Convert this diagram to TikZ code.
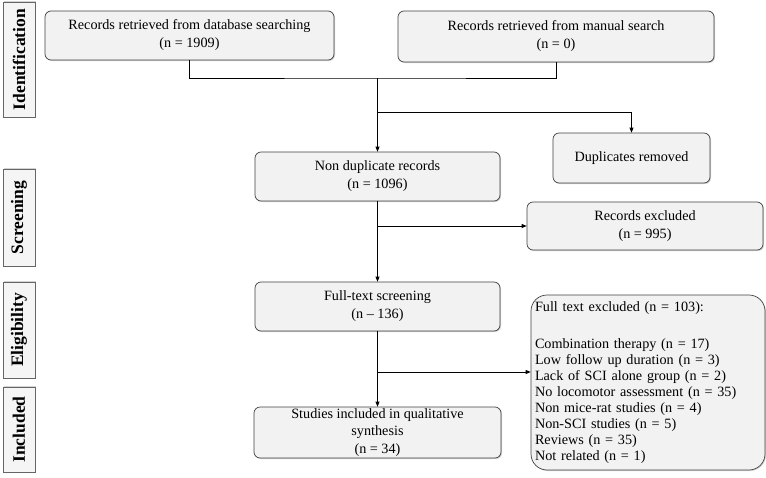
\documentclass[tikz,border=0pt]{standalone}
\usepackage{fontspec}
\setmainfont{Liberation Serif}
\usetikzlibrary{arrows.meta, shadows}

\begin{document}
\begin{tikzpicture}[
		x=1pt, y=-1pt,
		>={Triangle[length=5pt, width=4pt]},
		box/.style={draw=black!75, fill=black!5, line width=0.7pt, rounded corners=6pt, align=center, inner sep=1pt, font=\fontsize{14.2}{18}\selectfont, drop shadow={shadow xshift=1pt, shadow yshift=-1pt, opacity=0.35}},
		phase/.style={draw=black!60, fill=black!4, line width=0.7pt, rotate=90, minimum height=32pt, inner sep=0pt, font=\fontsize{17.5}{20}\selectfont\bfseries, drop shadow={shadow xshift=1pt, shadow yshift=1pt, opacity=0.35}},
		link/.style={line width=0.7pt},
	]
	\useasboundingbox (0,0) rectangle (766,477);

	\node[phase, minimum width=115pt] (identification) at (19, 59.5) {Identification};
	\node[phase, minimum width=97pt] (screening) at (19, 217.5) {Screening};
	\node[phase, minimum width=96pt] (eligibility) at (19, 330) {Eligibility};
	\node[phase, minimum width=85pt] (inclusion) at (19, 429.5) {Included};

	\node[box, minimum width=289pt, minimum height=49pt] (database) at (189.5, 35.5) {Records retrieved from database searching \\ (n = 1909)};
	\node[box, minimum width=316pt, minimum height=51pt] (manual) at (556, 36.5) {Records retrieved from manual search \\ (n = 0)};
	\node[box, minimum width=157pt, minimum height=50pt] (duplicates) at (631.5, 158) {Duplicates removed};
	\node[box, minimum width=245pt, minimum height=49pt] (nonduplicate) at (377.5, 176.5) {Non duplicate records \\ (n = 1096)};
	\node[box, minimum width=236pt, minimum height=48pt] (excluded) at (645, 226) {Records excluded \\ (n = 995)};
	\node[box, minimum width=245pt, minimum height=49pt] (fulltext) at (377.5, 306.5) {Full-text screening \\ (n -- 136)};
	\node[box, minimum width=247pt, minimum height=51pt, font=\fontsize{14.2}{17.5}\selectfont] (included) at (377.5, 432.5) {Studies included in qualitative \\ synthesis \\ (n = 34)};
	\node[box, rounded corners=16pt, minimum width=234pt, minimum height=175pt, text width=226pt, align=left, font=\fontsize{14.2}{16}\selectfont] (fulltextexcl) at (648, 382.5) {Full text excluded (n = 103): \\[21pt]
		Combination therapy (n = 17) \\
		Low follow up duration (n = 3) \\
		Lack of SCI alone group (n = 2) \\
		No locomotor assessment (n = 35) \\
		Non mice-rat studies (n = 4) \\
		Non-SCI studies (n = 5) \\
		Reviews (n = 35) \\
		Not related (n = 1)};

	\coordinate (merge) at (377.5, 78);
	\coordinate (split1) at (377.5, 112);
	\coordinate (split2) at (377.5, 226);
	\coordinate (split3) at (377.5, 372);

	\draw[link] (database.south) |- (merge) -| (manual.south);
	\draw[link, ->] (merge) -- (nonduplicate.north);
	\draw[link, ->] (split1) -| (duplicates.north);
	\draw[link, ->] (nonduplicate) -- (fulltext);
	\draw[link, ->] (split2) -- (excluded.west);
	\draw[link, ->] (fulltext) -- (included);
	\draw[link, ->] (split3) -- (split3 -| fulltextexcl.west);
\end{tikzpicture}
\end{document}
